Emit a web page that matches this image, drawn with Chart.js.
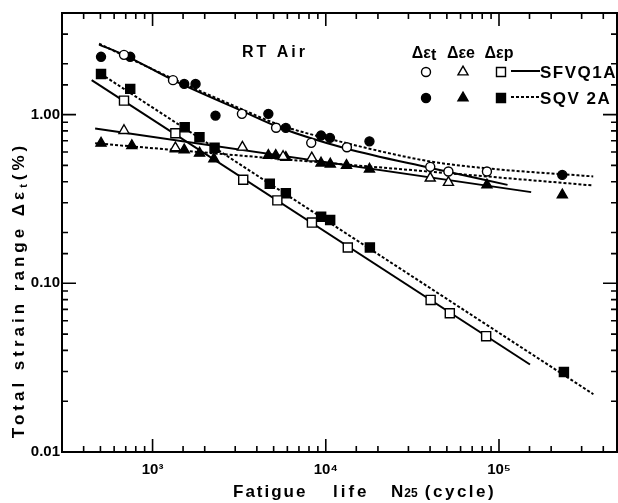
<!DOCTYPE html>
<html>
<head>
<meta charset="utf-8">
<script src="https://cdn.jsdelivr.net/npm/chart.js@4"></script>
<style>
  body { margin: 0; background: #fff; }
  canvas { display: block; }
</style>
</head>
<body>
<canvas id="chart" width="618" height="503"></canvas>
<script>
// fatigue life N25 (cycle), strain range (%)  -- [N, value]
// SFVQ1A: open symbols, solid fit lines
const sfvTotal = [[684,2.26],[1312,1.60],[3280,1.01],[5165,0.835],[8240,0.68],[13240,0.64],[40090,0.49],[51050,0.46],[85170,0.46]]
const sfvElastic = [[684,0.804],[1354,0.635],[3300,0.64],[5670,0.564],[8300,0.553],[40090,0.42],[51050,0.396]]
const sfvPlastic = [[684,1.21],[1354,0.775],[3337,0.411],[5252,0.31],[8318,0.229],[13400,0.163],[40300,0.0797],[52000,0.0664],[84300,0.0486]]
// SQV 2A: filled symbols, dotted fit lines
const sqvTotal = [[504,2.20],[743,2.20],[1523,1.52],[1771,1.52],[2308,0.986],[4660,1.01],[5880,0.834],[9390,0.751],[10570,0.728],[17870,0.694],[231900,0.439]]
const sqvElastic = [[504,0.676],[759,0.655],[1354,0.627],[1523,0.618],[1868,0.59],[2260,0.547],[4660,0.572],[5140,0.572],[5880,0.557],[9390,0.516],[10620,0.509],[13170,0.499],[17870,0.475],[85170,0.383],[232000,0.334]]
const sqvPlastic = [[504,1.74],[743,1.42],[1533,0.84],[1865,0.734],[2280,0.635],[4750,0.389],[5880,0.342],[9400,0.248],[10600,0.237],[17970,0.163],[237000,0.0298]]

// fitted lines
const sfvTotalFit = [[491,2.60],[684,2.26],[1312,1.60],[3250,1.056],[5370,0.841],[13100,0.629],[40300,0.482],[112000,0.383]]
const sqvTotalFit = [[491,2.63],[1312,1.63],[3250,1.08],[5370,0.87],[13100,0.678],[40300,0.527],[85000,0.48],[350000,0.43]]
const sfvElasticFit = [[466,0.826],[153400,0.347]]
const sqvElasticFit = [[466,0.676],[350000,0.38]]
const sfvPlasticFit = [[445,1.60],[151000,0.033]]
const sqvPlasticFit = [[504,1.74],[350700,0.022]]

const xMin = 300, xMax = 480000
const yMin = 0.01, yMax = 4
const seriesNames = ['SFVQ1A', 'SQV 2A']

const FONT = '"Liberation Sans", Arial, sans-serif'

function pts(arr) { return arr.map(p => ({ x: p[0], y: p[1] })) }

function marks(arr, style, filled, r) {
  return {
    data: pts(arr), pointStyle: style, pointRadius: r, pointHoverRadius: r,
    pointBackgroundColor: filled ? '#000' : '#fff', pointBorderColor: '#000',
    pointBorderWidth: 1.4, showLine: false, order: 1
  }
}

function fit(arr, dashed, curve) {
  return {
    data: pts(arr), showLine: true, borderColor: '#000', borderWidth: 2,
    borderDash: dashed ? [3, 2] : [], pointRadius: 0, pointHoverRadius: 0,
    cubicInterpolationMode: curve ? 'monotone' : 'default', order: 2
  }
}

function isDecade(v) {
  const l = Math.log10(v)
  return Math.abs(l - Math.round(l)) < 1e-6
}

const supers = { 3: '\u00b3', 4: '\u2074', 5: '\u2075', 6: '\u2076' }

// draws a row of text pieces, each {t, size, dy, sp}
function textRun(ctx, parts, x, y, align, spacing) {
  let total = 0
  parts.forEach(p => {
    ctx.letterSpacing = (p.sp != null ? p.sp : spacing || 0) + 'px'
    ctx.font = 'bold ' + p.size + 'px ' + FONT
    p.w = ctx.measureText(p.t).width
    total += p.w
  })
  let cx = align === 'center' ? x - total / 2 : x
  ctx.textAlign = 'left'
  ctx.textBaseline = 'alphabetic'
  parts.forEach(p => {
    ctx.letterSpacing = (p.sp != null ? p.sp : spacing || 0) + 'px'
    ctx.font = 'bold ' + p.size + 'px ' + FONT
    ctx.fillText(p.t, cx, y + (p.dy || 0))
    cx += p.w
  })
  ctx.letterSpacing = '0px'
}

function marker(ctx, style, filled, x, y) {
  ctx.beginPath()
  if (style === 'circle') {
    ctx.arc(x, y, 4.5, 0, Math.PI * 2)
  } else if (style === 'triangle') {
    const r = 5.8
    for (let i = 0; i < 3; i++) {
      const a = -Math.PI / 2 + i * 2 * Math.PI / 3
      const px = x + Math.cos(a) * r, py = y + Math.sin(a) * r
      i ? ctx.lineTo(px, py) : ctx.moveTo(px, py)
    }
    ctx.closePath()
  } else {
    ctx.rect(x - 4.5, y - 4.5, 9, 9)
  }
  ctx.fillStyle = filled ? '#000' : '#fff'
  ctx.fill()
  ctx.lineWidth = 1.4
  ctx.strokeStyle = '#000'
  ctx.stroke()
}

const decor = {
  id: 'decor',
  afterDraw(chart) {
    const { ctx, chartArea: a, scales: { x, y } } = chart
    ctx.save()
    ctx.strokeStyle = '#000'
    ctx.fillStyle = '#000'
    ctx.lineWidth = 2
    ctx.strokeRect(a.left, a.top, a.right - a.left, a.bottom - a.top)

    // inward ticks on all four sides
    ctx.lineWidth = 1.6
    ctx.beginPath()
    x.ticks.forEach(t => {
      const px = x.getPixelForValue(t.value)
      if (px < a.left + 2 || px > a.right - 10) return
      const len = isDecade(t.value) ? 13 : 6
      ctx.moveTo(px, a.bottom); ctx.lineTo(px, a.bottom - len)
      ctx.moveTo(px, a.top); ctx.lineTo(px, a.top + len)
    })
    y.ticks.forEach(t => {
      const py = y.getPixelForValue(t.value)
      if (py < a.top + 2 || py > a.bottom - 2) return
      const len = isDecade(t.value) ? 14 : 6
      ctx.moveTo(a.left, py); ctx.lineTo(a.left + len, py)
      ctx.moveTo(a.right, py); ctx.lineTo(a.right - len, py)
    })
    ctx.stroke()

    ctx.fillStyle = '#000'
    // axis titles
    textRun(ctx, [{ t: 'Fatigue', size: 17 }], 233, 497, 'left', 2)
    textRun(ctx, [{ t: 'life', size: 17 }], 333, 497, 'left', 3)
    textRun(ctx, [{ t: 'N', size: 17, sp: 1 }, { t: '25', size: 12, sp: 0 }, { t: ' (cycle)', size: 17, sp: 2.5 }], 391, 497, 'left', 1)

    ctx.save()
    ctx.translate(24, 290)
    ctx.rotate(-Math.PI / 2)
    ctx.fillStyle = '#000'
    textRun(ctx, [{ t: 'Total strain range \u0394\u03b5', size: 17 }, { t: 't', size: 11, dy: 3 }, { t: '(%)', size: 17 }], 0, 0, 'center', 4)
    ctx.restore()

    // annotation and key
    textRun(ctx, [{ t: 'RT Air', size: 16 }], 242, 57, 'left', 3)
    const cols = [426, 463, 501]
    const subs = ['t', 'e', 'p']
    cols.forEach((cx, i) => {
      textRun(ctx, [{ t: '\u0394\u03b5', size: 16 }, { t: subs[i], size: 16, dy: i === 0 ? 2 : 0 }], cx - 2, 58, 'center', 0)
    })
    const styles = ['circle', 'triangle', 'rect']
    const rows = [72, 98]
    rows.forEach((ry, r) => {
      styles.forEach((s, i) => marker(ctx, s, r === 1, cols[i], ry))
      ctx.beginPath()
      ctx.lineWidth = 2
      ctx.strokeStyle = '#000'
      ctx.setLineDash(r === 1 ? [3, 2] : [])
      ctx.moveTo(511, ry - 1); ctx.lineTo(540, ry - 1)
      ctx.stroke()
      ctx.setLineDash([])
      ctx.fillStyle = '#000'
      textRun(ctx, [{ t: seriesNames[r], size: 17 }], 540, ry + 6, 'left', 1.5)
    })
    ctx.restore()
  }
}

let chart = new Chart(document.querySelector('#chart'), {
  type: 'scatter',
  data: {
    datasets: [
      fit(sfvTotalFit, false, true),
      fit(sqvTotalFit, true, true),
      fit(sfvElasticFit, false, false),
      fit(sqvElasticFit, true, false),
      fit(sfvPlasticFit, false, false),
      fit(sqvPlasticFit, true, false),
      marks(sfvTotal, 'circle', false, 4.5),
      marks(sqvTotal, 'circle', true, 4.5),
      marks(sfvElastic, 'triangle', false, 5.8),
      marks(sqvElastic, 'triangle', true, 5.8),
      marks(sfvPlastic, 'rect', false, 6.4),
      marks(sqvPlastic, 'rect', true, 6.4)
    ]
  },
  options: {
    responsive: false,
    animation: false,
    devicePixelRatio: 1,
    layout: { autoPadding: false, padding: { top: 13, right: 1, left: 0, bottom: 0 } },
    plugins: { legend: { display: false }, tooltip: { enabled: false } },
    scales: {
      x: {
        type: 'logarithmic', min: xMin, max: xMax,
        grid: { display: false, drawTicks: false },
        border: { display: false },
        afterFit: s => { s.height = 51; s.paddingLeft = 0; s.paddingRight = 0 },
        ticks: {
          autoSkip: false, maxRotation: 0, padding: 9, color: '#000',
          font: { family: FONT, size: 15, weight: 'bold' },
          callback: v => isDecade(v) ? '10' + supers[Math.round(Math.log10(v))] : ''
        }
      },
      y: {
        type: 'logarithmic', min: yMin, max: yMax,
        grid: { display: false, drawTicks: false },
        border: { display: false },
        afterFit: s => { s.width = 62; s.paddingTop = 0; s.paddingBottom = 0 },
        ticks: {
          autoSkip: false, padding: 2, color: '#000',
          font: { family: FONT, size: 15, weight: 'bold' },
          callback: v => isDecade(v) && v <= 1 ? v.toFixed(2) : ''
        }
      }
    }
  },
  plugins: [decor]
})
</script>
</body>
</html>
